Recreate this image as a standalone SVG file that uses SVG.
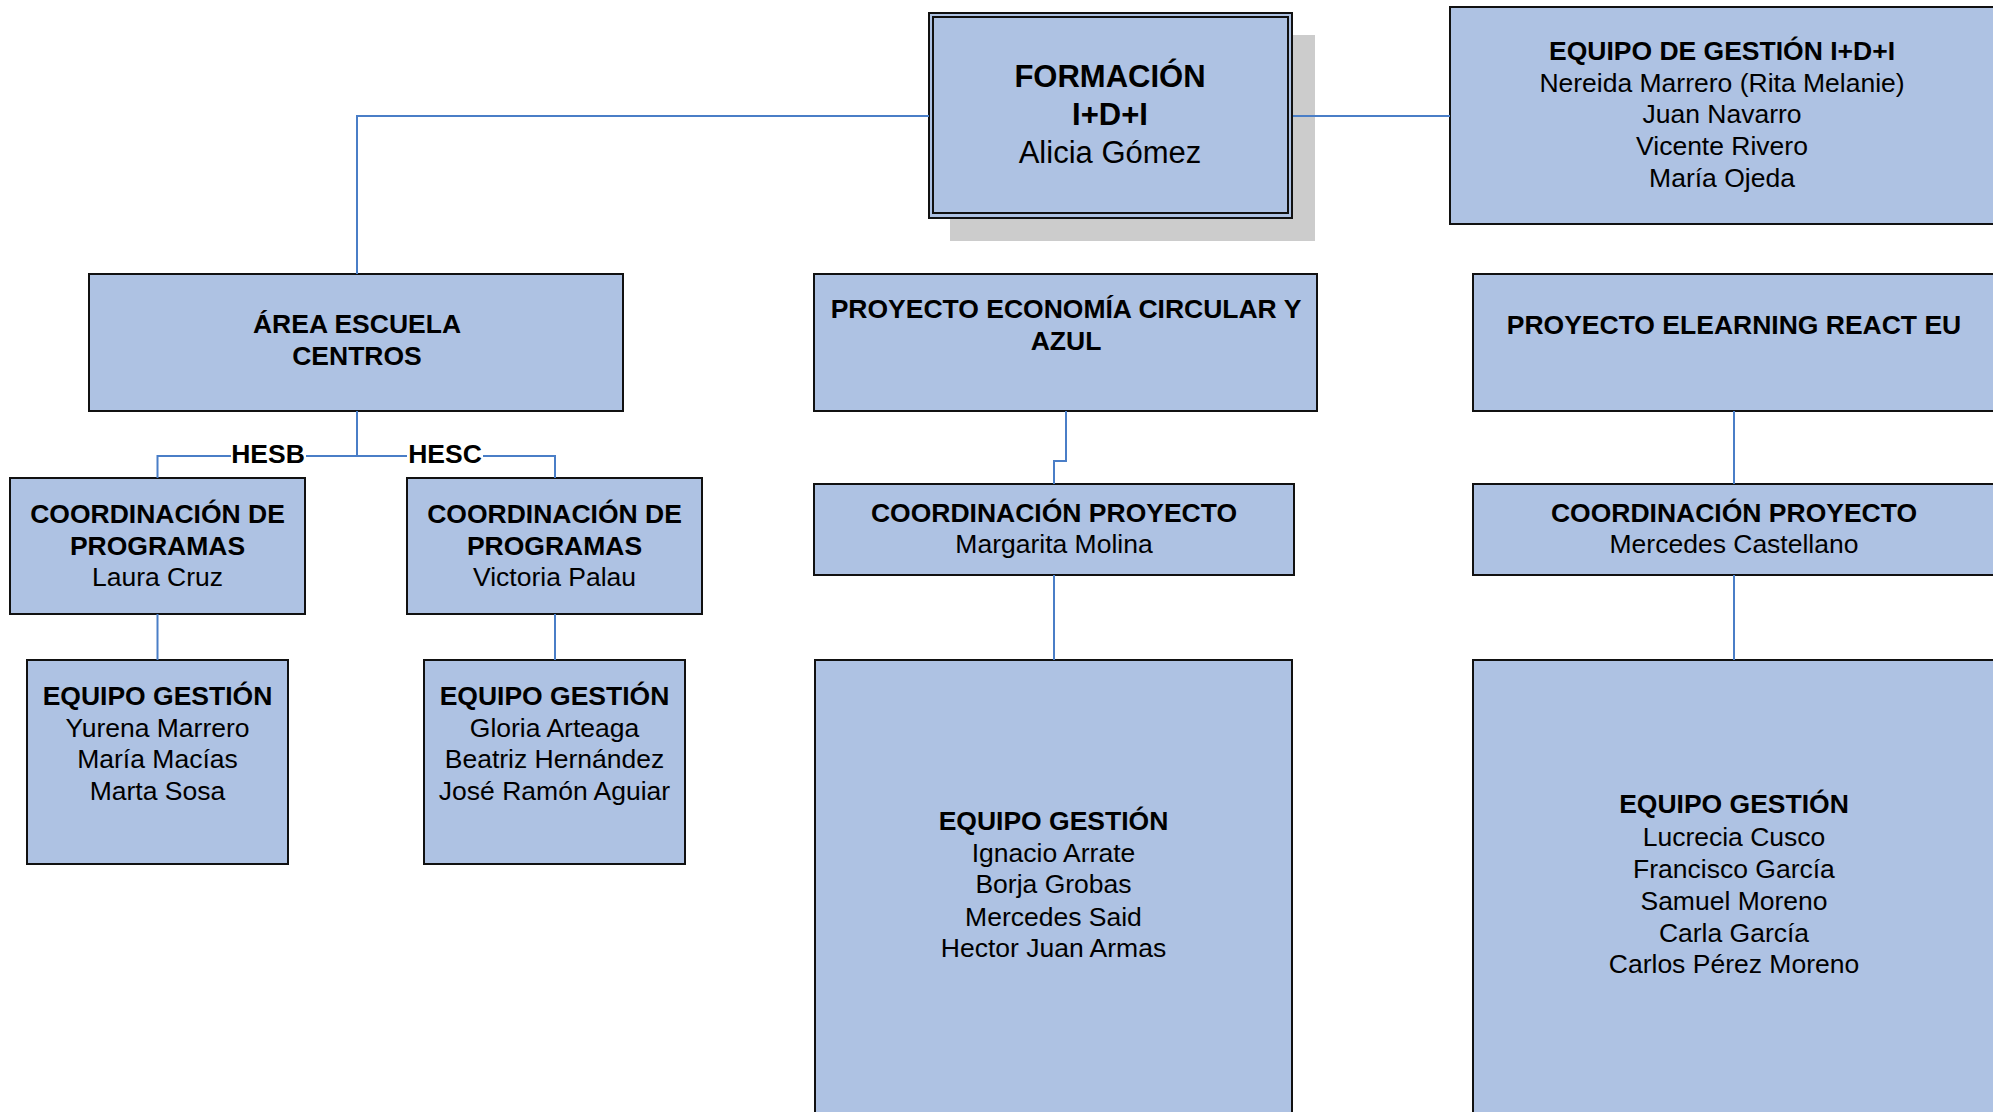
<svg xmlns="http://www.w3.org/2000/svg" width="1993" height="1112" viewBox="0 0 1993 1112">
<style>
.box{fill:#AEC2E3;stroke:#111;stroke-width:2}
.con{fill:none;stroke:#4A7EC7;stroke-width:2}
text{font-family:"Liberation Sans",Arial,sans-serif;font-size:26.5px;fill:#000;text-anchor:middle}
.b{font-weight:bold}
.big{font-size:31px}
</style>
<rect width="1993" height="1112" fill="#fff"/>
<g id="formacion">
<rect x="950" y="35" width="365" height="206" fill="#CCCCCC"/>
<rect class="box" x="929" y="13" width="363" height="205"/>
<rect x="933" y="17" width="355" height="196" fill="none" stroke="#111" stroke-width="2"/>
<text class="b big" x="1110" y="87">FORMACIÓN</text>
<text class="b big" x="1110" y="125">I+D+I</text>
<text class="big" x="1110" y="163">Alicia Gómez</text>
</g>
<g id="equipo-idi">
<rect class="box" x="1450" y="7" width="560" height="217"/>
<text class="b" x="1722" y="60">EQUIPO DE GESTIÓN I+D+I</text>
<text x="1722" y="92">Nereida Marrero (Rita Melanie)</text>
<text x="1722" y="123">Juan Navarro</text>
<text x="1722" y="155">Vicente Rivero</text>
<text x="1722" y="187">María Ojeda</text>
</g>
<g id="area-escuela">
<rect class="box" x="89" y="274" width="534" height="137"/>
<text class="b" x="357" y="333">ÁREA ESCUELA</text>
<text class="b" x="357" y="365">CENTROS</text>
</g>
<g id="proyecto-economia">
<rect class="box" x="814" y="274" width="503" height="137"/>
<text class="b" x="1066" y="318">PROYECTO ECONOMÍA CIRCULAR Y</text>
<text class="b" x="1066" y="350">AZUL</text>
</g>
<g id="proyecto-elearning">
<rect class="box" x="1473" y="274" width="540" height="137"/>
<text class="b" x="1734" y="334">PROYECTO ELEARNING REACT EU</text>
</g>
<g id="coord-hesb">
<rect class="box" x="10" y="478" width="295" height="136"/>
<text class="b" x="157.5" y="523">COORDINACIÓN DE</text>
<text class="b" x="157.5" y="555">PROGRAMAS</text>
<text x="157.5" y="586">Laura Cruz</text>
</g>
<g id="coord-hesc">
<rect class="box" x="407" y="478" width="295" height="136"/>
<text class="b" x="554.5" y="523">COORDINACIÓN DE</text>
<text class="b" x="554.5" y="555">PROGRAMAS</text>
<text x="554.5" y="586">Victoria Palau</text>
</g>
<g id="coord-economia">
<rect class="box" x="814" y="484" width="480" height="91"/>
<text class="b" x="1054" y="522">COORDINACIÓN PROYECTO</text>
<text x="1054" y="553">Margarita Molina</text>
</g>
<g id="coord-elearning">
<rect class="box" x="1473" y="484" width="540" height="91"/>
<text class="b" x="1734" y="522">COORDINACIÓN PROYECTO</text>
<text x="1734" y="553">Mercedes Castellano</text>
</g>
<g id="equipo-hesb">
<rect class="box" x="27" y="660" width="261" height="204"/>
<text class="b" x="157.5" y="705">EQUIPO GESTIÓN</text>
<text x="157.5" y="737">Yurena Marrero</text>
<text x="157.5" y="768">María Macías</text>
<text x="157.5" y="800">Marta Sosa</text>
</g>
<g id="equipo-hesc">
<rect class="box" x="424" y="660" width="261" height="204"/>
<text class="b" x="554.5" y="705">EQUIPO GESTIÓN</text>
<text x="554.5" y="737">Gloria Arteaga</text>
<text x="554.5" y="768">Beatriz Hernández</text>
<text x="554.5" y="800">José Ramón Aguiar</text>
</g>
<g id="equipo-economia">
<rect class="box" x="815" y="660" width="477" height="470"/>
<text class="b" x="1053.5" y="830">EQUIPO GESTIÓN</text>
<text x="1053.5" y="862">Ignacio Arrate</text>
<text x="1053.5" y="893">Borja Grobas</text>
<text x="1053.5" y="926">Mercedes Said</text>
<text x="1053.5" y="957">Hector Juan Armas</text>
</g>
<g id="equipo-elearning">
<rect class="box" x="1473" y="660" width="540" height="470"/>
<text class="b" x="1734" y="813">EQUIPO GESTIÓN</text>
<text x="1734" y="846">Lucrecia Cusco</text>
<text x="1734" y="878">Francisco García</text>
<text x="1734" y="910">Samuel Moreno</text>
<text x="1734" y="942">Carla García</text>
<text x="1734" y="973">Carlos Pérez Moreno</text>
</g>
<g id="connectors">
<path class="con" d="M929,116 H357 V274"/>
<path class="con" d="M1293,116 H1450"/>
<path class="con" d="M357,411 V456"/>
<path class="con" d="M157.5,478 V456 H231"/>
<path class="con" d="M306,456 H407"/>
<path class="con" d="M483,456 H555 V478"/>
<path class="con" d="M157.5,614 V660"/>
<path class="con" d="M555,614 V660"/>
<path class="con" d="M1066,411 V461 H1054 V484"/>
<path class="con" d="M1054,575 V660"/>
<path class="con" d="M1734,411 V484"/>
<path class="con" d="M1734,575 V660"/>
<text class="b" x="268" y="463">HESB</text>
<text class="b" x="445" y="463">HESC</text>
</g>
</svg>
